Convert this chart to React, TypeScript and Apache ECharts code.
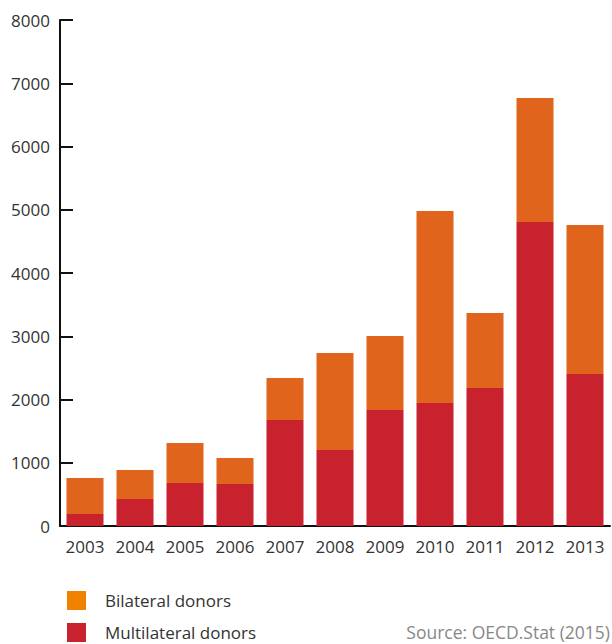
import React, { useEffect, useRef } from "react";
import * as echarts from "echarts";

const years = ["2003", "2004", "2005", "2006", "2007", "2008", "2009", "2010", "2011", "2012", "2013"];
const multilateral = [190, 427, 680, 664, 1676, 1202, 1834, 1945, 2182, 4806, 2403];
const bilateral = [570, 458, 632, 411, 664, 1533, 1170, 3035, 1186, 1961, 2356];
const yTicks = { min: 0, max: 8000, interval: 1000 };

const FONT = "'Open Sans', 'Noto Sans', sans-serif";

export default function App() {
  const ref = useRef<HTMLDivElement>(null);
  useEffect(() => {
    if (!ref.current) return;
    const chart = echarts.init(ref.current, undefined, { renderer: "svg" });
    chart.setOption({
      animation: false,
      grid: { left: 60, right: 2, top: 20, bottom: 118, containLabel: false },
      xAxis: {
        type: "category",
        data: years,
        axisLine: { show: true, lineStyle: { color: "#111", width: 2 } },
        axisTick: { show: false },
        axisLabel: { color: "#333", fontSize: 17, fontFamily: FONT, margin: 12, interval: 0 },
      },
      yAxis: {
        type: "value",
        min: yTicks.min,
        max: yTicks.max,
        interval: yTicks.interval,
        splitLine: { show: false },
        axisLine: { show: true, lineStyle: { color: "#111", width: 2 } },
        axisTick: { show: true, inside: true, length: 13, lineStyle: { color: "#111", width: 2 } },
        axisLabel: {
          color: "#333",
          fontSize: 17,
          fontFamily: FONT,
          margin: 10,
          formatter: (v: number) => String(v),
        },
      },
      legend: {
        orient: "vertical",
        left: 67,
        top: 591,
        height: 60,
        padding: 0,
        itemWidth: 19,
        itemHeight: 19,
        itemGap: 13,
        icon: "rect",
        textStyle: { color: "#333", fontSize: 17, fontFamily: FONT, padding: [3, 0, 0, 14] },
        data: [
          { name: "Bilateral donors", itemStyle: { color: "#F08200" } },
          { name: "Multilateral donors", itemStyle: { color: "#C8222E" } },
        ],
      },
      graphic: [
        {
          type: "text",
          right: 2,
          top: 623,
          style: { text: "Source: OECD.Stat (2015)", fill: "#888", fontSize: 17.5, fontFamily: FONT },
        },
      ],
      series: [
        {
          name: "Multilateral donors",
          type: "bar",
          stack: "total",
          data: multilateral,
          barCategoryGap: "26%",
          itemStyle: { color: "#C8222E" },
        },
        {
          name: "Bilateral donors",
          type: "bar",
          stack: "total",
          data: bilateral,
          barCategoryGap: "26%",
          itemStyle: { color: "#E0641C" },
        },
      ],
    });
    return () => chart.dispose();
  }, []);
  return <div ref={ref} style={{ width: 612, height: 644, position: "absolute", left: 0, top: 0 }} />;
}
